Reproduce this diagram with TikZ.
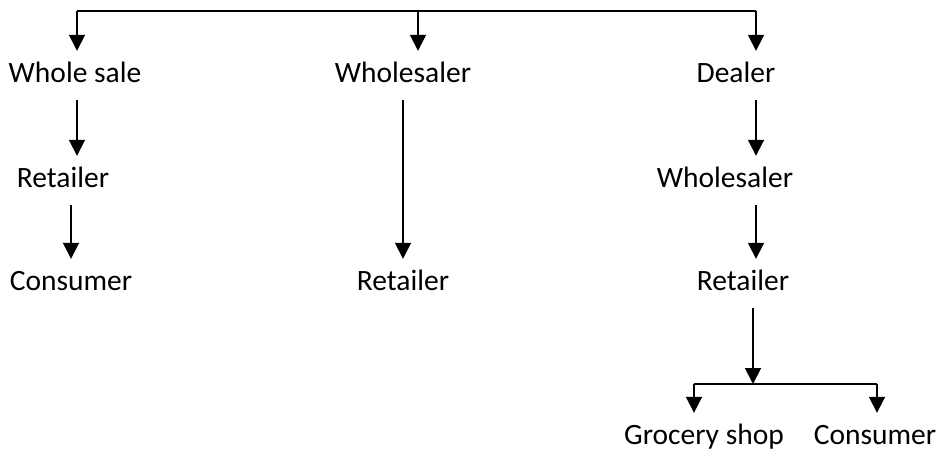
\documentclass[tikz,border=0pt]{standalone}
\usepackage{fontspec}
\setmainfont{Carlito}
\usetikzlibrary{arrows.meta}

\tikzstyle{every node}=[anchor=base, font={\fontsize{29.5}{35}\selectfont}, inner xsep=0pt, inner ysep=12pt, text height=19pt, text depth=6pt]
\tikzstyle{link}=[line width=1.8pt]
\tikzstyle{flow}=[link, -{Triangle[width=16pt,length=16pt]}]

\begin{document}
\begin{tikzpicture}[x=1pt,y=-1pt]
    \useasboundingbox (0,0) rectangle (939,451);

    % top bar
    \coordinate (top1) at (77,11);
    \coordinate (top2) at (418,11);
    \coordinate (top3) at (756,11);

    % first channel
    \node (wsale) at (75,82) {Whole sale};
    \node (retA) at (63,187) {Retailer};
    \node (conA) at (71,290) {Consumer};

    % second channel
    \node (wslB) at (403,82) {Wholesaler};
    \node (retB) at (403,290) {Retailer};

    % third channel
    \node (deal) at (736,82) {Dealer};
    \node (wslC) at (725,187) {Wholesaler};
    \node (retC) at (743,290) {Retailer};
    \coordinate (fork) at (753,384);
    \coordinate (forkL) at (694,384);
    \coordinate (forkR) at (877,384);
    \node (groc) at (704,444) {Grocery shop};
    \node (conC) at (875,444) {Consumer};

    \draw [link] (top1) -- (top3);
    \draw [flow] (top1) -- (wsale.north -| top1);
    \draw [flow] (top2) -- (wslB.north -| top2);
    \draw [flow] (top3) -- (deal.north -| top3);

    \draw [flow] (wsale.south -| top1) -- (retA.north -| top1);
    \draw [flow] (retA.south -| conA) -- (conA.north);
    \draw [flow] (wslB.south -| retB) -- (retB.north);
    \draw [flow] (deal.south -| top3) -- (wslC.north -| top3);
    \draw [flow] (wslC.south -| top3) -- (retC.north -| top3);
    \draw [flow] (retC.south -| fork) -- (fork);
    \draw [link] (forkL) -- (forkR);
    \draw [flow] (forkL) -- (groc.north -| forkL);
    \draw [flow] (forkR) -- (conC.north -| forkR);
\end{tikzpicture}
\end{document}
